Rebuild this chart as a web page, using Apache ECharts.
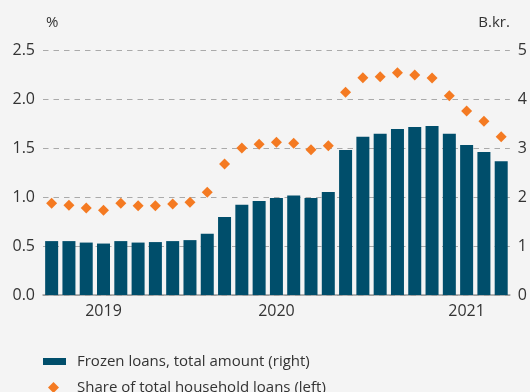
<!DOCTYPE html>
<html><head><meta charset="utf-8">
<script src="https://cdn.jsdelivr.net/npm/echarts@6/dist/echarts.min.js"></script>
<style>html,body{margin:0;padding:0;background:#f4f4f4}#c{width:530px;height:392px}</style>
</head><body><div id="c"></div>
<script>
const categories = ['2019-06','2019-07','2019-08','2019-09','2019-10','2019-11','2019-12',
  '2020-01','2020-02','2020-03','2020-04','2020-05','2020-06','2020-07','2020-08','2020-09','2020-10','2020-11','2020-12','2020-13','2020-14',
  '2021-01','2021-02','2021-03','2021-04','2021-05','2021-06'];
const frozenLoans = [1.10,1.10,1.07,1.05,1.10,1.07,1.08,1.10,1.12,1.25,1.59,1.84,1.92,1.98,2.03,1.98,2.10,2.96,3.23,3.29,3.39,3.43,3.45,3.29,3.06,2.92,2.73];
const shareOfLoans = [0.936,0.915,0.888,0.864,0.936,0.911,0.911,0.929,0.946,1.048,1.337,1.50,1.538,1.558,1.548,1.483,1.524,2.068,2.218,2.228,2.269,2.245,2.214,2.034,1.878,1.772,1.615];
const yearLabels = {3:'2019', 13:'2020', 24:'2021'};
const yearBoundaries = [0,7,20,27];
const leftTicks = ['0.0','0.5','1.0','1.5','2.0','2.5'];

const FONT = '"Open Sans", sans-serif';
const chart = echarts.init(document.getElementById('c'), null, {renderer:'canvas'});
chart.setOption({
  backgroundColor:'#f4f4f4',
  animation:false,
  textStyle:{fontFamily:FONT},
  grid:{left:43,right:17,top:50,bottom:97},
  legend:[{
    data:[{name:'Frozen loans, total amount (right)',icon:'rect'}],
    left:43, top:354, itemWidth:23, itemHeight:7, padding:0,
    textStyle:{fontFamily:FONT,fontSize:15,color:'#333',padding:[0,0,0,6]}
  },{
    data:[{name:'Share of total household loans (left)',icon:'diamond'}],
    left:48, top:380, itemWidth:11, itemHeight:11, padding:0,
    textStyle:{fontFamily:FONT,fontSize:15,color:'#333',padding:[0,0,0,13]}
  }],
  xAxis:{
    type:'category', data:categories, boundaryGap:true,
    axisLine:{lineStyle:{color:'#999',width:1.5}},
    axisTick:{length:6,lineStyle:{color:'#999',width:1.5},interval:function(i){return yearBoundaries.indexOf(i)>=0;}},
    axisLabel:{interval:function(i){return yearLabels[i]!==undefined;},formatter:function(v,i){return yearLabels[i]||'';},
      fontSize:16,color:'#333',margin:8,fontFamily:FONT}
  },
  yAxis:[{
    type:'value', min:0, max:2.5, interval:0.5, name:'%', nameLocation:'end', nameGap:20,
    nameTextStyle:{align:'left',fontSize:15,color:'#333',fontFamily:FONT,padding:[0,0,0,3]},
    axisLabel:{formatter:function(v){return leftTicks[Math.round(v/0.5)];},fontSize:16,color:'#333',margin:8,fontFamily:FONT},
    axisLine:{show:false},axisTick:{show:false},
    splitLine:{lineStyle:{color:'#aaa',type:[5.5,5],width:1}}
  },{
    type:'value', min:0, max:5, interval:1, name:'B.kr.', nameLocation:'end', nameGap:20,
    nameTextStyle:{align:'right',fontSize:15,color:'#333',fontFamily:FONT},
    axisLabel:{fontSize:16,color:'#333',margin:8,fontFamily:FONT},
    axisLine:{show:false},axisTick:{show:false},splitLine:{show:false}
  }],
  series:[{
    name:'Frozen loans, total amount (right)', type:'bar', yAxisIndex:1, data:frozenLoans,
    barWidth:13, itemStyle:{color:'#004e6b'}
  },{
    name:'Share of total household loans (left)', type:'scatter', yAxisIndex:0, data:shareOfLoans,
    symbol:'diamond', symbolSize:11, itemStyle:{color:'#f47a22',opacity:1}
  }]
});
</script></body></html>
